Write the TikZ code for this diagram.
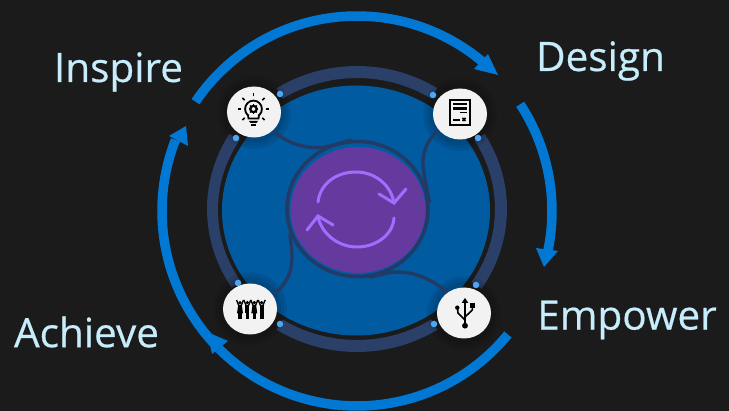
\documentclass[tikz,border=0pt]{standalone}
\usepackage{fontspec}
\setmainfont{Open Sans}
\newfontfamily\labelfont[FakeBold=0.5]{Open Sans}
\usetikzlibrary{shapes.geometric,backgrounds}
\definecolor{bgc}{HTML}{1B1B1B}
\definecolor{arcblue}{HTML}{0078D4}
\definecolor{ringc}{HTML}{2A4068}
\definecolor{linkc}{HTML}{223B66}
\definecolor{discc}{HTML}{005BA1}
\definecolor{purp}{HTML}{653A9E}
\definecolor{syncc}{HTML}{A06EFF}
\definecolor{dotc}{HTML}{4BA6F5}
\definecolor{lab}{HTML}{C7ECFB}
\definecolor{chip}{HTML}{F2F2F2}
\tikzset{x=1pt,y=-1pt,
 outerarc/.style={draw=arcblue,line width=9.5pt},
 arctip/.style={fill=arcblue,draw=none},
 ringseg/.style={draw=ringc,line width=12pt},
 cyclelabel/.style={font=\labelfont\fontsize{40.5}{44}\selectfont,text=lab,inner sep=0pt,anchor=center},
 chipnode/.style={ellipse,fill=chip,minimum width=54pt,minimum height=51pt,inner sep=0pt},
 dotnode/.style={circle,fill=dotc,minimum size=6.5pt,inner sep=0pt},
 linkline/.style={draw=linkc,line width=3.4pt},
 glyph/.style={draw=black,line width=1.8pt,line cap=round},
 syncline/.style={draw=syncc,line width=3pt,line cap=round}}
\begin{document}
\begin{tikzpicture}
\useasboundingbox (0,0) rectangle (729,411);
% nodes
\coordinate (o) at (357,211);
\coordinate (rc) at (357,209);
\node[ellipse,fill=discc,draw=linkc,line width=3.6pt,minimum width=141pt,minimum height=135pt,inner sep=0pt] (hub) at (357.5,209) {};
\node[ellipse,fill=purp,minimum width=135pt,minimum height=126pt,inner sep=0pt] (hubcore) at (358,210) {};
\node[chipnode] (ins) at (254,112) {};
\node[chipnode] (des) at (460,114) {};
\node[chipnode] (ach) at (250,309) {};
\node[chipnode] (emp) at (464,313) {};
\foreach \n/\px/\py in {d1/280/94,d2/433/95,d3/478/138,d4/476/285,d5/434/324,d6/280/324,d7/238/283,d8/236/138}
  \node[dotnode] (\n) at (\px,\py) {};
\node[cyclelabel] (tins) at (118.5,72) {Inspire};
\node[cyclelabel] (tdes) at (600.5,61) {Design};
\node[cyclelabel] (temp) at (627,320) {Empower};
\node[cyclelabel] (tach) at (86.5,332) {Achieve};
\begin{scope}[on background layer]
\fill[bgc] (0,0) rectangle (729,411);
% ring segments
\foreach \a/\b in {-122.5/-57.6,-31.7/33.9,57.5/122.5,146.8/211.7}
  \draw[ringseg] (rc) ++(\a:144 and 137) arc[start angle=\a,end angle=\b,x radius=144,y radius=137];
\fill[bgc] (356,210) ellipse (138 and 129);
\fill[discc] (356,210.5) ellipse (134 and 125);
% shadows of the chips
\foreach \px/\py in {254/112,460/114,250/309,464/313}
  \foreach \r in {31,34,37}
    \fill[black,opacity=.07] (\px,\py) circle (\r);
% links
\draw[linkline] (ins) .. controls (285,142) and (305,150) .. (325,147) .. controls (337,145) and (342,142) .. (hub.95);
\draw[linkline] (des) .. controls (432,135) and (422,148) .. (423,165) .. controls (424,175) and (425,180) .. (hub.5);
\draw[linkline] (ach) .. controls (280,290) and (292,278) .. (292,258) .. controls (292,250) and (291,245) .. (hub.200);
\draw[linkline] (emp) .. controls (440,285) and (420,272) .. (398,272) .. controls (388,272) and (380,275) .. (hub.280);
% cycle arcs
\draw[outerarc] (o) ++(-145.9:195) arc[start angle=-145.9,end angle=-50,radius=195];
\fill[arctip] (498,75) -- (488,54) -- (474,69) -- cycle;
\draw[outerarc] (o) ++(-33.2:195) arc[start angle=-33.2,end angle=11.8,radius=195];
\fill[arctip] (544,267) -- (558,251) -- (536,248) -- cycle;
\draw[outerarc] (o) ++(39.3:195) arc[start angle=39.3,end angle=135,radius=195];
\fill[arctip] (207,332) -- (228,341) -- (212,354) -- cycle;
\draw[outerarc] (o) ++(135:195) arc[start angle=135,end angle=201.4,radius=195];
\fill[arctip] (186,126) -- (169,136) -- (188,146) -- cycle;
\end{scope}
% sync icon
\draw[syncline] (318,202) .. controls (320,184) and (336,172) .. (356,172) .. controls (375,172) and (391,185) .. (394,203);
\draw[syncline] (379,194) -- (394,203) -- (406,189);
\draw[syncline] (394,218) .. controls (393,234) and (377,247) .. (357,247) .. controls (338,247) and (322,234) .. (318,217);
\draw[syncline] (333,225) -- (318,216) -- (307,230);
% bulb icon
\draw[glyph] (253.5,109) circle (8.4);
\fill[chip] (247,115) rectangle (260,120);
\draw[glyph] (248,115) -- (248.5,118.5) -- (258.5,118.5) -- (259,115);
\draw[black,line width=2.2pt] (253.5,109) circle (3.2);
\foreach \a in {0,45,...,315}
  \draw[black,line width=1.3pt] (253.5,109) ++(\a:3.4) -- ++(\a:1.5);
\fill[black] (249,121) -- (258,121) -- (256.5,123) -- (250.5,123) -- cycle;
\fill[black] (251,124) rectangle (256,125.6);
\foreach \a in {-180,-135,-90,-45,0,45,135}
  \draw[black,line width=1.6pt] (253.5,109) ++(\a:12.5) -- ++(\a:3.2);
% document icon
\draw[black,line width=2pt] (450,100.5) rectangle (470,125.5);
\fill[black] (453,103.3) rectangle (467.3,105.3);
\fill[black] (453,107) rectangle (467.3,110.3);
\fill[black] (460,111.7) rectangle (467.3,113.3);
\fill[black] (453,118.8) rectangle (460,120.6);
\draw[black,line width=1.7pt] (462.5,118) -- (465.5,121) (465.5,118) -- (462.5,121);
% usb icon
\fill[black] (465,325.7) circle (2.9);
\draw[black,line width=1.6pt] (465,325) -- (465,301);
\fill[black] (465,298) -- (468.4,303) -- (461.6,303) -- cycle;
\draw[black,line width=1.6pt] (465,320) -- (458,313) -- (457.5,308);
\fill[black] (457.3,307.7) circle (2.2);
\draw[black,line width=1.6pt] (465,317) -- (472.3,310) -- (472.3,306);
\fill[black] (470.1,303.5) rectangle (474.5,307.9);
% people icon
\foreach \px/\sk in {240/1,247.3/0,254.3/1,261.7/0}{
  \fill[black] (\px,302.6) circle (1.8);
  \draw[black,line width=1.4pt] (\px-3.5,300) -- (\px-1.2,305.5) (\px+3.5,300) -- (\px+1.2,305.5);
  \ifnum\sk=1
    \fill[black] (\px-1.8,305) -- (\px+1.8,305) -- (\px+3,313.5) -- (\px-3,313.5) -- cycle;
  \else
    \fill[black] (\px-2,305) rectangle (\px+2,313);
  \fi
  \fill[black] (\px-1.8,312) rectangle (\px-.15,319.5);
  \fill[black] (\px+.15,312) rectangle (\px+1.8,319.5);
}
\end{tikzpicture}
\end{document}
